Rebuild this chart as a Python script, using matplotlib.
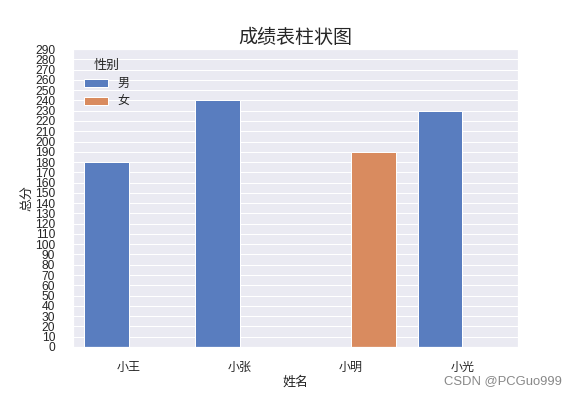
import matplotlib
matplotlib.use("Agg")
import matplotlib.pyplot as plt
import seaborn as sns
import pandas as pd

names = ["小王", "小张", "小明", "小光"]
scores = [180, 240, 190, 230]
genders = ["男", "男", "女", "男"]
yticks = list(range(0, 300, 10))

sns.set_theme(style="darkgrid", palette="muted")
plt.rcParams['font.family'] = ['Liberation Sans', 'Noto Sans CJK SC', 'DejaVu Sans']
plt.rcParams['axes.unicode_minus'] = False

df = pd.DataFrame({"姓名": names, "总分": scores, "性别": genders})

fig = plt.figure(figsize=(8, 5.5), dpi=72)
ax = fig.add_axes([0.127, 0.124, 0.772, 0.752])
sns.barplot(data=df, x="姓名", y="总分", hue="性别", hue_order=["男", "女"],
            palette="muted", dodge=True, ax=ax)
ax.set_yticks(yticks)
ax.set_ylim(0, 290)
ax.tick_params(axis='y', labelsize=12, pad=12)
ax.tick_params(axis='x', labelsize=12, pad=9)
ax.set_xlabel("姓名", fontsize=13, labelpad=2)
ax.set_ylabel("总分", fontsize=13, labelpad=2)
ax.set_title("成绩表柱状图", fontsize=19, pad=6)
leg = ax.legend(title="性别", loc="upper left", frameon=False, fontsize=12,
                title_fontsize=13, bbox_to_anchor=(0.0, 1.0))
fig.text(0.976, 0.038, "CSDN @PCGuo999", ha="right", va="center",
         fontsize=13, color="#888888")
fig.savefig("out.png", dpi=72)
